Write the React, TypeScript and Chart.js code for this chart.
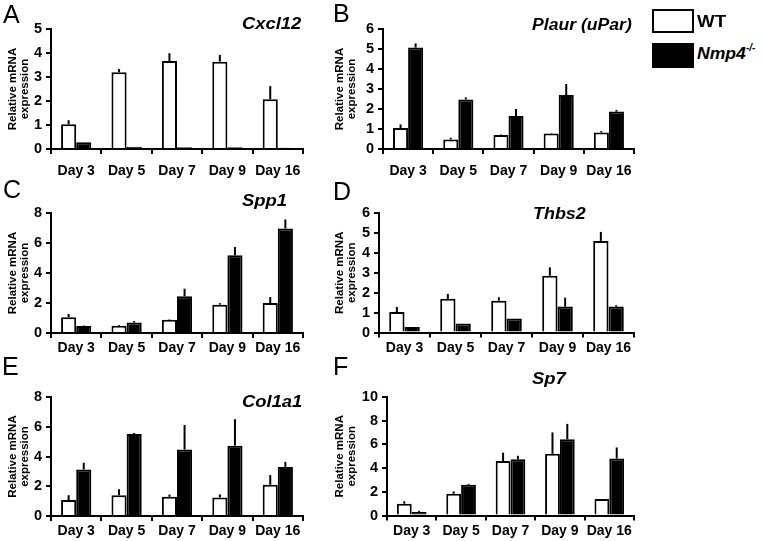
import React, { useEffect, useRef } from 'react';
import { Chart, registerables } from 'chart.js';

Chart.register(...registerables);

const FONT = '"Liberation Sans", Arial, Helvetica, sans-serif';

// ---- categories ----
const days = ['Day 3', 'Day 5', 'Day 7', 'Day 9', 'Day 16'];
const yTitle = ['Relative mRNA', 'expression'];

// ---- A: Cxcl12 ----
const cxcl12WT = [1.03, 3.2, 3.67, 3.64, 2.07];
const cxcl12WTErr = [0.17, 0.13, 0.32, 0.28, 0.55];
const cxcl12KO = [0.28, 0.09, 0.07, 0.07, 0.05];
const cxcl12KOErr = [0, 0, 0, 0, 0];

// ---- B: Plaur (uPar) ----
const plaurWT = [1.05, 0.48, 0.7, 0.78, 0.82];
const plaurWTErr = [0.18, 0.08, 0.02, 0.02, 0.07];
const plaurKO = [5.07, 2.48, 1.65, 2.7, 1.87];
const plaurKOErr = [0.21, 0.1, 0.35, 0.55, 0.08];

// ---- C: Spp1 ----
const spp1WT = [1.05, 0.48, 0.89, 1.89, 2.0];
const spp1WTErr = [0.22, 0.05, 0.03, 0.1, 0.4];
const spp1KO = [0.47, 0.7, 2.45, 5.18, 6.97];
const spp1KOErr = [0.03, 0.1, 0.5, 0.55, 0.6];

// ---- D: Thbs2 ----
const thbs2WT = [1.03, 1.69, 1.6, 2.85, 4.6];
const thbs2WTErr = [0.25, 0.25, 0.17, 0.42, 0.45];
const thbs2KO = [0.28, 0.45, 0.7, 1.3, 1.3];
const thbs2KOErr = [0, 0, 0, 0.45, 0.07];

// ---- E: Col1a1 ----
const col1a1WT = [1.07, 1.4, 1.29, 1.25, 2.1];
const col1a1WTErr = [0.33, 0.4, 0.15, 0.2, 0.65];
const col1a1KO = [3.13, 5.51, 4.47, 4.73, 3.29];
const col1a1KOErr = [0.45, 0.07, 1.65, 1.78, 0.35];

// ---- F: Sp7 ----
const sp7WT = [1.0, 1.83, 4.6, 5.21, 1.4];
const sp7WTErr = [0.2, 0.2, 0.7, 1.8, 0];
const sp7KO = [0.3, 2.59, 4.74, 6.43, 4.81];
const sp7KOErr = [0.1, 0.08, 0.3, 1.3, 0.93];

// ---- y axis ranges ----
const yMaxA = 5, yStepA = 1;
const yMaxB = 6, yStepB = 1;
const yMaxC = 8, yStepC = 2;
const yMaxD = 6, yStepD = 1;
const yMaxE = 8, yStepE = 2;
const yMaxF = 10, yStepF = 2;

type Panel = {
  wt: number[]; wtErr: number[]; ko: number[]; koErr: number[];
  max: number; step: number;
  // layout
  left: number; top: number; w: number; h: number;
  areaL: number; areaR: number; areaT: number; areaB: number;
  xPad: number; titlePad: number;
};

const panels: Panel[] = [
  { wt: cxcl12WT, wtErr: cxcl12WTErr, ko: cxcl12KO, koErr: cxcl12KOErr, max: yMaxA, step: yStepA,
    left: 0, top: 0, w: 320, h: 182, areaL: 51, areaR: 303, areaT: 29, areaB: 149, xPad: 9, titlePad: 6.5 },
  { wt: plaurWT, wtErr: plaurWTErr, ko: plaurKO, koErr: plaurKOErr, max: yMaxB, step: yStepB,
    left: 328, top: 0, w: 320, h: 182, areaL: 55, areaR: 306, areaT: 29, areaB: 149, xPad: 9, titlePad: 6 },
  { wt: spp1WT, wtErr: spp1WTErr, ko: spp1KO, koErr: spp1KOErr, max: yMaxC, step: yStepC,
    left: 0, top: 184, w: 320, h: 180, areaL: 51, areaR: 303, areaT: 29, areaB: 149, xPad: 2, titlePad: 6.5 },
  { wt: thbs2WT, wtErr: thbs2WTErr, ko: thbs2KO, koErr: thbs2KOErr, max: yMaxD, step: yStepD,
    left: 328, top: 184, w: 320, h: 180, areaL: 51, areaR: 306, areaT: 29, areaB: 148.5, xPad: 2, titlePad: 6 },
  { wt: col1a1WT, wtErr: col1a1WTErr, ko: col1a1KO, koErr: col1a1KOErr, max: yMaxE, step: yStepE,
    left: 0, top: 368, w: 320, h: 173, areaL: 51, areaR: 303, areaT: 29, areaB: 148, xPad: 2, titlePad: 6.5 },
  { wt: sp7WT, wtErr: sp7WTErr, ko: sp7KO, koErr: sp7KOErr, max: yMaxF, step: yStepF,
    left: 328, top: 368, w: 320, h: 173, areaL: 59, areaR: 306, areaT: 29, areaB: 147.5, xPad: 2, titlePad: 6 },
];

function errorBarPlugin(errs: number[][]) {
  return {
    id: 'errorBars',
    afterDatasetsDraw(chart: any) {
      const ctx = chart.ctx;
      const y = chart.scales.y;
      errs.forEach((arr, di) => {
        const meta = chart.getDatasetMeta(di);
        const vals = chart.data.datasets[di].data as number[];
        meta.data.forEach((el: any, i: number) => {
          const e = arr[i];
          if (!e) return;
          ctx.save();
          ctx.strokeStyle = '#000';
          ctx.lineWidth = 2;
          ctx.beginPath();
          ctx.moveTo(el.x, el.y);
          ctx.lineTo(el.x, y.getPixelForValue(vals[i] + e));
          ctx.stroke();
          ctx.restore();
        });
      });
    },
  };
}

function BarPanel({ p }: { p: Panel }) {
  const ref = useRef<HTMLCanvasElement>(null);
  useEffect(() => {
    const tickGrid = {
      drawOnChartArea: false,
      drawTicks: true,
      tickLength: 5,
      color: '#000',
      lineWidth: 2,
    };
    const chart = new Chart(ref.current as HTMLCanvasElement, {
      type: 'bar',
      data: {
        labels: days,
        datasets: [
          { label: 'WT', data: p.wt, backgroundColor: '#fff', borderColor: '#000', borderWidth: 2,
            borderSkipped: 'bottom', categoryPercentage: 0.6, barPercentage: 1.0 },
          { label: 'Nmp4-/-', data: p.ko, backgroundColor: '#000', borderColor: '#000', borderWidth: 2,
            borderSkipped: 'bottom', categoryPercentage: 0.6, barPercentage: 1.0 },
        ],
      },
      options: {
        responsive: false,
        animation: false,
        devicePixelRatio: 1,
        layout: { padding: { left: 0, top: p.areaT, right: p.w - p.areaR, bottom: 0 } },
        plugins: { legend: { display: false }, tooltip: { enabled: false } },
        scales: {
          x: {
            grid: { ...tickGrid, offset: true },
            border: { display: true, color: '#000', width: 2 },
            ticks: { color: '#000', font: { family: FONT, size: 14, weight: 'bold' }, padding: p.xPad,
              maxRotation: 0, autoSkip: false },
            afterFit: (sc: any) => { sc.height = p.h - p.areaB; },
          },
          y: {
            min: 0,
            max: p.max,
            grid: tickGrid,
            border: { display: true, color: '#000', width: 2 },
            ticks: { stepSize: p.step, autoSkip: false, color: '#000',
              font: { family: FONT, size: 14.5, weight: 'bold', lineHeight: 1 }, padding: 4 },
            title: {
              display: true,
              text: yTitle,
              color: '#000',
              font: { family: FONT, size: 11.5, weight: 'bold', lineHeight: 1.05 },
              padding: { top: p.titlePad, bottom: 0 },
            },
            afterFit: (sc: any) => { sc.width = p.areaL; },
          },
        },
      } as any,
      plugins: [errorBarPlugin([p.wtErr, p.koErr])],
    });
    return () => chart.destroy();
  }, [p]);
  return (
    <canvas
      ref={ref}
      width={p.w}
      height={p.h}
      style={{ position: 'absolute', left: p.left, top: p.top, width: p.w, height: p.h }}
    />
  );
}

function Txt(props: { x: number; base: number; size: number; bold?: boolean; italic?: boolean; sx?: number; children: React.ReactNode }) {
  const { x, base, size, bold, italic, sx = 1, children } = props;
  return (
    <div
      style={{
        position: 'absolute',
        left: x,
        top: base - 0.8465 * size,
        fontFamily: FONT,
        fontSize: size,
        lineHeight: 1,
        fontWeight: bold ? 'bold' : 'normal',
        fontStyle: italic ? 'italic' : 'normal',
        whiteSpace: 'nowrap',
        color: '#000',
        transform: `scaleX(${sx})`,
        transformOrigin: 'left top',
      }}
    >
      {children}
    </div>
  );
}

export default function App() {
  return (
    <div style={{ position: 'absolute', left: 0, top: 0, width: 762, height: 541, background: '#fff', overflow: 'hidden' }}>
      {panels.map((p, i) => (
        <BarPanel key={i} p={p} />
      ))}

      {/* panel letters */}
      <Txt x={3} base={23} size={25}>A</Txt>
      <Txt x={333} base={22} size={25}>B</Txt>
      <Txt x={3} base={198} size={25}>C</Txt>
      <Txt x={333} base={200} size={25}>D</Txt>
      <Txt x={2} base={375} size={25}>E</Txt>
      <Txt x={333} base={375} size={25}>F</Txt>

      {/* gene titles */}
      <Txt x={242} base={30} size={16} bold italic sx={1.15}>Cxcl12</Txt>
      <Txt x={532} base={31} size={16} bold italic sx={1.1}>Plaur (uPar)</Txt>
      <Txt x={242} base={207} size={16} bold italic sx={1.15}>Spp1</Txt>
      <Txt x={533} base={220} size={16} bold italic sx={1.12}>Thbs2</Txt>
      <Txt x={242} base={408} size={16} bold italic sx={1.15}>Col1a1</Txt>
      <Txt x={532} base={385} size={16} bold italic sx={1.15}>Sp7</Txt>

      {/* legend */}
      <div style={{ position: 'absolute', left: 652, top: 9, width: 42, height: 24, boxSizing: 'border-box',
        border: '2px solid #000', background: '#fff' }} />
      <div style={{ position: 'absolute', left: 652, top: 43, width: 42, height: 25, background: '#000' }} />
      <Txt x={697} base={28} size={16} bold sx={1.17}>WT</Txt>
      <Txt x={697} base={60} size={16} bold italic sx={1.1}>Nmp4</Txt>
      <Txt x={746} base={51} size={10} bold italic>-/-</Txt>
    </div>
  );
}
